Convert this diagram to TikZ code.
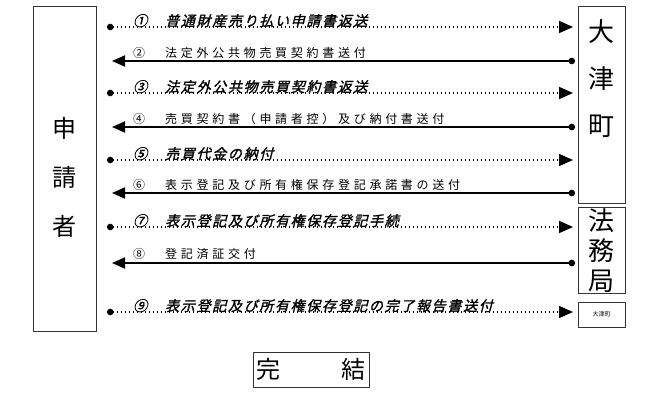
\documentclass[tikz,border=0pt]{standalone}
\usepackage{fontspec}
\usetikzlibrary{arrows.meta}
\newfontfamily\jp{Noto Sans CJK JP}
\newfontfamily\jpsp[LetterSpace=31]{Noto Sans CJK JP}
\newfontfamily\jpit[FakeSlant=0.25,FakeBold=1.5,LetterSpace=12]{Noto Sans CJK JP}
\begin{document}
\begin{tikzpicture}[x=1pt,y=-1pt,
  box/.style={draw=black!80, line width=0.8pt, inner sep=0pt},
  dotline/.style={line width=1.7pt, dash pattern=on 1.6pt off 2.4pt, {Circle[length=6.5pt]}-{Triangle[length=14pt,width=12pt]}},
  solidline/.style={line width=1.8pt, {Triangle[length=13pt,width=11pt]}-{Circle[length=6.5pt]}},
  reglabel/.style={anchor=base west, inner sep=0pt, font=\jpsp\fontsize{12}{14}\selectfont},
  itlabel/.style={anchor=base west, inner sep=0pt, font=\jpit\fontsize{14}{16}\selectfont},
  bigtext/.style={align=center, inner sep=0pt}]
\useasboundingbox (0,0) rectangle (650,410);
% boxes
\node[box, minimum width=63pt, minimum height=325pt] (applicant) at (64.5,168.5) {};
\node[bigtext, font=\jp\fontsize{24}{49}\selectfont] (applicantText) at (64.5,177) {申\\請\\者};
\node[box, minimum width=47pt, minimum height=197pt] (otsu) at (601.5,104.5) {};
\node[bigtext, font=\jp\fontsize{26}{47}\selectfont] (otsuText) at (601.5,79) {大\\津\\町};
\node[box, minimum width=47pt, minimum height=86pt] (houmu) at (601.5,250) {};
\node[bigtext, font=\jp\fontsize{26}{30}\selectfont] (houmuText) at (601.5,251) {法\\務\\局};
\node[box, minimum width=47pt, minimum height=25pt, font=\jp\fontsize{6}{7}\selectfont] (otsuSmall) at (601.5,314.5) {大津町};
\node[box, minimum width=116pt, minimum height=35pt, font=\jp\fontsize{24}{26}\selectfont] (end) at (311,369.5) {完\hspace{62pt}結};
% coordinates
\foreach \n/\y in {1/27,3/93,5/160,7/227,9/312}{
  \coordinate (L\n) at (107,\y);
  \coordinate (R\n) at (573,\y);
}
\foreach \n/\y in {2/61,4/127,6/193,8/263}{
  \coordinate (L\n) at (112,\y);
  \coordinate (R\n) at (575,\y);
}
% connectors
\draw[dotline] (L1) -- (R1);
\draw[solidline] (L2) -- (R2);
\draw[dotline] (L3) -- (R3);
\draw[solidline] (L4) -- (R4);
\draw[dotline] (L5) -- (R5);
\draw[solidline] (L6) -- (R6);
\draw[dotline] (L7) -- (R7);
\draw[solidline] (L8) -- (R8);
\draw[dotline] (L9) -- (R9);
% labels
\node[itlabel] (t1) at (133,26) {\makebox[32pt][l]{①}普通財産売り払い申請書返送};
\node[reglabel] (t2) at (133,57) {\makebox[32pt][l]{②}法定外公共物売買契約書送付};
\node[itlabel] (t3) at (133,92) {\makebox[32pt][l]{③}法定外公共物売買契約書返送};
\node[reglabel] (t4) at (133,123) {\makebox[32pt][l]{④}売買契約書（申請者控）及び納付書送付};
\node[itlabel] (t5) at (133,159) {\makebox[32pt][l]{⑤}売買代金の納付};
\node[reglabel] (t6) at (133,189) {\makebox[32pt][l]{⑥}表示登記及び所有権保存登記承諾書の送付};
\node[itlabel] (t7) at (133,226) {\makebox[32pt][l]{⑦}表示登記及び所有権保存登記手続};
\node[reglabel] (t8) at (133,258) {\makebox[32pt][l]{⑧}登記済証交付};
\node[itlabel] (t9) at (133,311) {\makebox[32pt][l]{⑨}表示登記及び所有権保存登記の完了報告書送付};
\end{tikzpicture}
\end{document}
